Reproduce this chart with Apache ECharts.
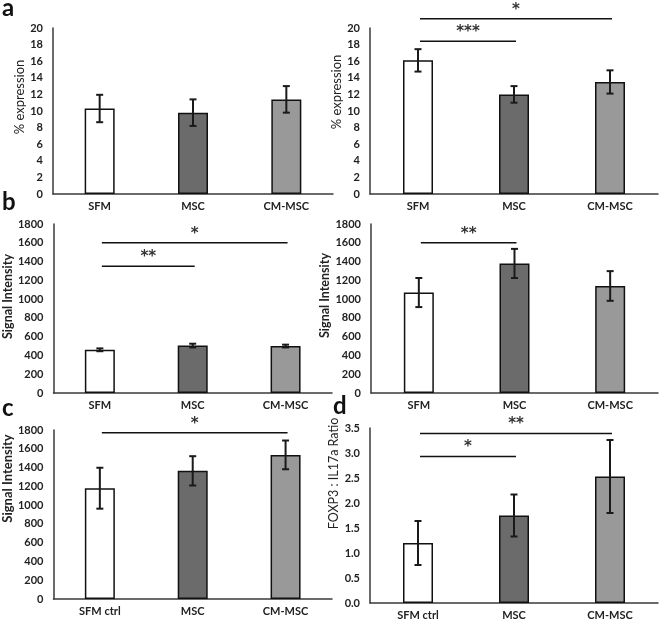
<!DOCTYPE html>
<html><head><meta charset="utf-8">
<script src="https://cdn.jsdelivr.net/npm/echarts@6/dist/echarts.min.js"></script>
<style>html,body{margin:0;padding:0;background:#fff}#c{width:660px;height:621px}</style>
</head><body><div id="c"></div>
<script>
// ---- data ----
const catsAB = ['SFM', 'MSC', 'CM-MSC'];
const catsCD = ['SFM ctrl', 'MSC', 'CM-MSC'];
const barColors = ['#ffffff', '#6b6b6b', '#999999'];

const a1Mean = [10.3, 9.8, 11.4];
const a1Err  = [1.65, 1.6, 1.6];
const a2Mean = [16.1, 12.0, 13.5];
const a2Err  = [1.35, 1.0, 1.4];
const b1Mean = [460, 505, 500];
const b1Err  = [15, 20, 15];
const b2Mean = [1070, 1380, 1140];
const b2Err  = [155, 155, 158];
const cMean  = [1180, 1365, 1535];
const cErr   = [218, 156, 153];
const dMean  = [1.2, 1.75, 2.53];
const dErr   = [0.44, 0.42, 0.73];

// significance brackets: [fromIndex, toIndex, level, label]
const a1Sig = [];
const a2Sig = [[0, 1, 18.4, '***'], [0, 2, 21.1, '*']];
const b1Sig = [[0, 1, 1350, '**'], [0, 2, 1600, '*']];
const b2Sig = [[0, 1, 1600, '**']];
const cSig  = [[0, 2, 1770, '*']];
const dSig  = [[0, 1, 2.93, '*'], [0, 2, 3.39, '**']];

const yTitles = ['% expression', '% expression', 'Signal Intensity', 'Signal Intensity', 'Signal Intensity', 'FOXP3 : IL17a Ratio'];
const panelLetters = ['a', 'b', 'c', 'd'];

// ---- layout ----
const FONT = 'Lato, "Open Sans", sans-serif';
const STARFONT = '"DejaVu Sans", sans-serif';
const grids = [
  {left: 53, top: 28, width: 280, height: 166},
  {left: 370, top: 28, width: 288, height: 166},
  {left: 52, top: 224, width: 280, height: 169},
  {left: 371, top: 224, width: 287, height: 169},
  {left: 52, top: 430, width: 280, height: 169},
  {left: 370, top: 428, width: 288, height: 175}
];
// [nameGap, shift up (px), bold, fontSize]
const titleCfg = [[25, 14, false, 13], [23, 19, false, 13], [32, 12, true, 12.5], [31, 13, true, 12.5], [33, 36, true, 13], [26, 42, false, 12.5]];
const panels = [
  {cats: catsAB, mean: a1Mean, err: a1Err, sig: a1Sig, min: 0, max: 20, interval: 2, fmt: v => v},
  {cats: catsAB, mean: a2Mean, err: a2Err, sig: a2Sig, min: 0, max: 20, interval: 2, fmt: v => v},
  {cats: catsAB, mean: b1Mean, err: b1Err, sig: b1Sig, min: 0, max: 1800, interval: 200, fmt: v => v},
  {cats: catsAB, mean: b2Mean, err: b2Err, sig: b2Sig, min: 0, max: 1800, interval: 200, fmt: v => v},
  {cats: catsCD, mean: cMean, err: cErr, sig: cSig, min: 0, max: 1800, interval: 200, fmt: v => v},
  {cats: catsCD, mean: dMean, err: dErr, sig: dSig, min: 0, max: 3.5, interval: 0.5, fmt: v => v.toFixed(1)}
];

const xAxes = [], yAxes = [], series = [];
panels.forEach((p, i) => {
  const tc = titleCfg[i];
  xAxes.push({
    gridIndex: i, type: 'category', data: p.cats,
    axisLine: {lineStyle: {color: '#3a3a3a', width: 1.5}},
    axisTick: {show: false},
    axisLabel: {color: '#222', fontFamily: FONT, fontWeight: 'bold', fontSize: 11, margin: 7}
  });
  yAxes.push({
    gridIndex: i, type: 'value', min: p.min, max: p.max, interval: p.interval,
    splitLine: {show: false},
    axisLine: {show: true, lineStyle: {color: '#3a3a3a', width: 1.5}},
    axisTick: {show: false},
    axisLabel: {color: '#222', fontFamily: FONT, fontWeight: 'bold', fontSize: 11, margin: 10, formatter: p.fmt},
    name: yTitles[i], nameLocation: 'middle', nameRotate: 90, nameGap: tc[0],
    nameTextStyle: {color: '#222', fontFamily: FONT, fontSize: tc[3], fontWeight: tc[2] ? 'bold' : 'normal',
                    padding: [0, 0, 0, tc[1] * 2]}
  });
  series.push({
    type: 'bar', xAxisIndex: i, yAxisIndex: i, barWidth: 30,
    data: p.mean.map((v, k) => ({value: v, itemStyle: {color: barColors[k]}})),
    itemStyle: {borderColor: '#111', borderWidth: 1.5},
    silent: true
  });
  const errData = p.mean.map((v, k) => [k, v - p.err[k], v + p.err[k]]);
  series.push({
    type: 'custom', xAxisIndex: i, yAxisIndex: i, z: 5, silent: true,
    data: errData,
    encode: {x: 0, y: [1, 2]},
    renderItem: function (params, api) {
      const x = api.value(0);
      const lo = api.coord([x, api.value(1)]);
      const hi = api.coord([x, api.value(2)]);
      const hw = 3.5;
      const st = {stroke: '#1a1a1a', lineWidth: 2};
      return {type: 'group', children: [
        {type: 'line', shape: {x1: lo[0], y1: lo[1], x2: hi[0], y2: hi[1]}, style: st},
        {type: 'line', shape: {x1: lo[0] - hw, y1: lo[1], x2: lo[0] + hw, y2: lo[1]}, style: st},
        {type: 'line', shape: {x1: hi[0] - hw, y1: hi[1], x2: hi[0] + hw, y2: hi[1]}, style: st}
      ]};
    }
  });
  if (p.sig.length) {
    const sigs = p.sig;
    series.push({
      type: 'custom', xAxisIndex: i, yAxisIndex: i, z: 6, silent: true, clip: false,
      data: sigs.map(s => [s[0], s[2]]),
      encode: {x: 0, y: 1},
      renderItem: function (params, api) {
        const s = sigs[params.dataIndex];
        const p0 = api.coord([s[0], s[2]]);
        const p1 = api.coord([s[1], s[2]]);
        return {type: 'group', children: [
          {type: 'line', shape: {x1: p0[0] + 2, y1: p0[1], x2: p1[0] + 2, y2: p1[1]}, style: {stroke: '#111', lineWidth: 1.5}},
          {type: 'text', x: (p0[0] + p1[0]) / 2 + 2, y: p0[1] - 9,
           style: {text: s[3], fill: '#333', font: 'bold 15px ' + STARFONT, align: 'center', verticalAlign: 'middle'}}
        ]};
      }
    });
  }
});

const letterPos = [[2, -4], [2, 190], [2, 396], [333, 394]];
const graphic = panelLetters.map((t, k) => ({
  type: 'text', left: letterPos[k][0], top: letterPos[k][1],
  style: {text: t, fill: '#111', font: 'bold 24px ' + FONT}
}));

const chart = echarts.init(document.getElementById('c'), null, {renderer: 'canvas'});
chart.setOption({
  animation: false,
  backgroundColor: '#fff',
  grid: grids,
  xAxis: xAxes,
  yAxis: yAxes,
  series: series,
  graphic: graphic
});
</script>
</body></html>
